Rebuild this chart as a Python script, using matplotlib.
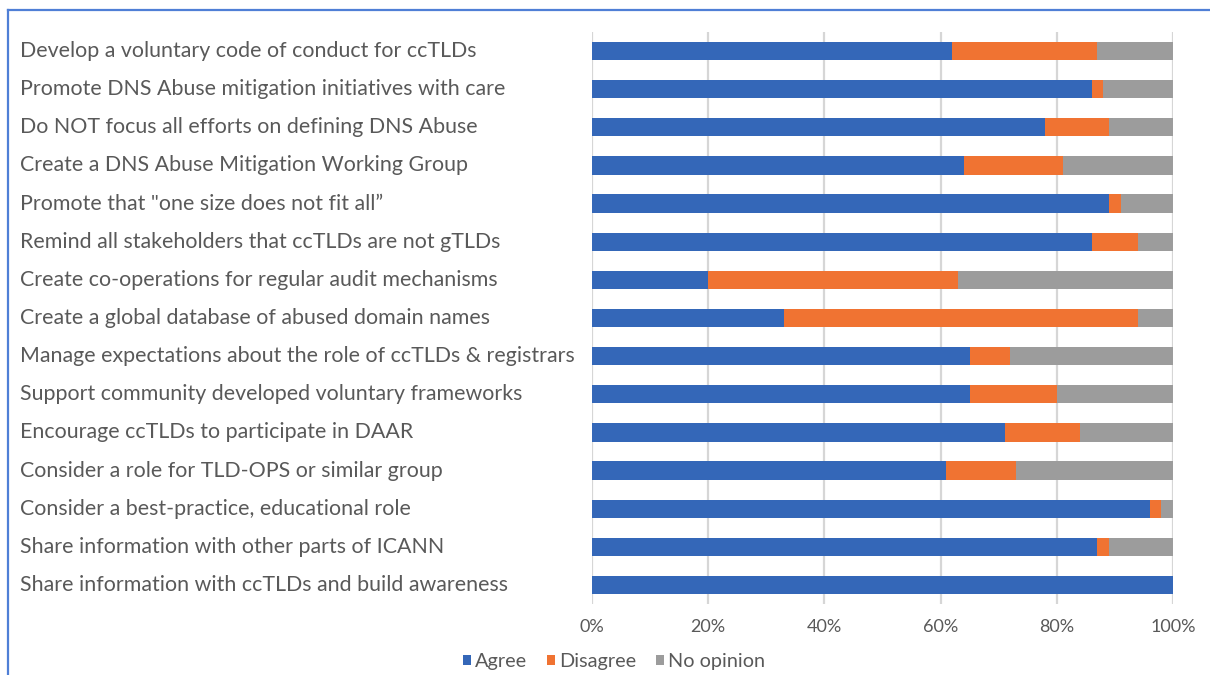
import matplotlib.pyplot as plt
from matplotlib.lines import Line2D
from matplotlib.patches import Patch
from matplotlib.ticker import FuncFormatter
import numpy as np

plt.rcParams["font.family"] = ["Lato", "DejaVu Sans"]

# top-to-bottom order as shown in the chart
categories = [
    "Develop a voluntary code of conduct for ccTLDs",
    "Promote DNS Abuse mitigation initiatives with care",
    "Do NOT focus all efforts on defining DNS Abuse",
    "Create a DNS Abuse Mitigation Working Group",
    "Promote that \"one size does not fit all\u201d",
    "Remind all stakeholders that ccTLDs are not gTLDs",
    "Create co-operations for regular audit mechanisms",
    "Create a global database of abused domain names",
    "Manage expectations about the role of ccTLDs & registrars",
    "Support community developed voluntary frameworks",
    "Encourage ccTLDs to participate in DAAR",
    "Consider a role for TLD-OPS or similar group",
    "Consider a best-practice, educational role",
    "Share information with other parts of ICANN",
    "Share information with ccTLDs and build awareness",
]
agree = [62, 86, 78, 64, 89, 86, 20, 33, 65, 65, 71, 61, 96, 87, 100]
disagree = [25, 2, 11, 17, 2, 8, 43, 61, 7, 15, 13, 12, 2, 2, 0]
no_opinion = [13, 12, 11, 19, 9, 6, 37, 6, 28, 20, 16, 27, 2, 11, 0]

SERIES = ["Agree", "Disagree", "No opinion"]
COLORS = ["#3467B8", "#F07332", "#9C9C9C"]
TEXT = "#595959"

W, H = 1210, 675
fig = plt.figure(figsize=(W / 100, H / 100), dpi=100)
ax = fig.add_axes([592 / W, 1 - 604 / H, (1173 - 592) / W, (604 - 32) / H])

y = np.arange(len(categories))[::-1]
left = np.zeros(len(categories))
for vals, name, color in zip([agree, disagree, no_opinion], SERIES, COLORS):
    vals = np.asarray(vals, dtype=float)
    ax.barh(y, vals, left=left, height=0.48, color=color, label=name, zorder=3)
    left += vals

ax.set_xlim(0, 100)
ax.set_ylim(-0.5, len(categories) - 0.5)
ax.set_xticks(np.arange(0, 101, 20))
ax.xaxis.set_major_formatter(FuncFormatter(lambda v, _: f"{v:.0f}%"))
ax.tick_params(axis="x", length=0, pad=11, labelsize=13, labelcolor=TEXT)
ax.set_yticks([])
ax.grid(axis="x", color="#D6D6D6", linewidth=1.6, zorder=0)
for s in ax.spines.values():
    s.set_visible(False)

for yi, label in zip(y, categories):
    ax.text((20 - 592) / (1173 - 592), yi, label, transform=ax.get_yaxis_transform(),
            ha="left", va="center", fontsize=15.4, color=TEXT)

handles = [Patch(facecolor=c, edgecolor="none", label=n) for n, c in zip(SERIES, COLORS)]
fig.legend(handles=handles, loc="center", bbox_to_anchor=(614 / W, 1 - 662 / H),
           ncol=3, frameon=False, fontsize=14.3, labelcolor=TEXT,
           handlelength=0.4, handleheight=0.4, handletextpad=0.2, columnspacing=1.0)

# chart frame (only top and left edges are in view)
fig.add_artist(Line2D([8 / W, 1.0], [1 - 10 / H, 1 - 10 / H], color="#4F7FD6", linewidth=1.6))
fig.add_artist(Line2D([8 / W, 8 / W], [0.0, 1 - 10 / H], color="#4F7FD6", linewidth=1.6))

fig.savefig("out.png", dpi=100)
